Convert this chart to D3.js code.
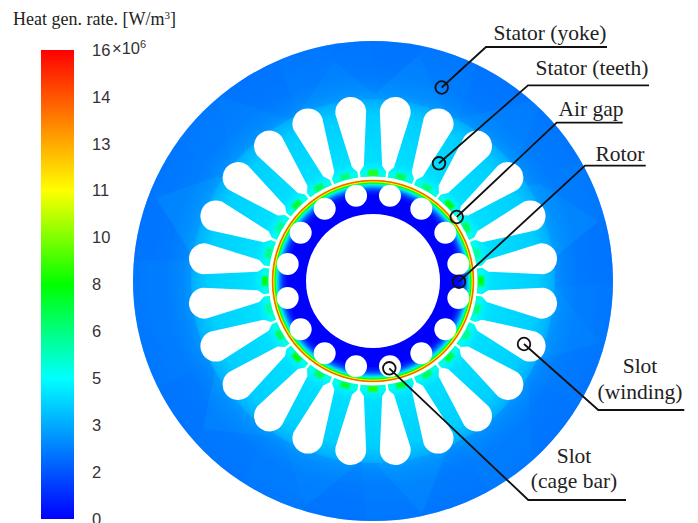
<!DOCTYPE html>
<html>
<head>
<meta charset="utf-8">
<script src="https://cdn.jsdelivr.net/npm/d3@7"></script>
<style>
  html, body { margin: 0; background: #fff; overflow: hidden; }
  svg { display: block; }
  .tick text { font-family: "Liberation Sans", Arial, sans-serif; fill: #333; }
  .note { font-family: "Liberation Serif", "Times New Roman", serif; fill: #222; }
</style>
</head>
<body>
<svg width="698" height="523"></svg>
<script>
// colour bar
const barTicks = [0, 1.6, 3.2, 4.8, 6.4, 8, 9.6, 11.2, 12.8, 14.4, 16]
const barLabels = ["0", "2", "3", "5", "6", "8", "10", "11", "13", "14", "16"]
const colorStops = [0, 4.8, 8, 11.2, 16]
const colorRange = ["#0000ff", "#00ffff", "#00ff00", "#ffff00", "#ff0000"]

// heat generation rate against radius
const statorRadii = [104.5, 108, 113, 120, 165, 178, 190, 205, 240]
const statorHeat = [5.4, 5, 4.5, 4.2, 3.9, 3.4, 2.8, 2.4, 2.2]
const rotorRadii = [67, 85, 89, 92, 95, 96.5, 98, 99.2, 100.2, 101, 101.5]
const rotorHeat = [0, 0, 0.6, 1.8, 3.8, 5.5, 8, 11, 14.5, 13.5, 10.5]

// heat on each of the tooth tips, clockwise from the top tooth
const toothTipHeat = [8.5, 7, 6.5, 8, 7, 6, 8, 6.5, 6.2, 7.5, 7, 7.5, 8.5, 7.5, 7, 8, 7, 6, 8, 6.5, 6.2, 7.5, 7, 6.5]

// coarse mesh cells in the yoke: angle in degrees, radius, heat
const cellAngle = [4, 19, 33, 52, 66, 84, 97, 113, 129, 143, 160, 176, 188, 205, 222, 236, 251, 268, 283, 299, 312, 329, 344, 356,
    12, 41, 72, 105, 137, 168, 198, 228, 258, 291, 320, 350]
const cellRadius = [226, 222, 229, 224, 228, 221, 227, 223, 229, 222, 226, 224, 229, 221, 226, 223, 228, 222, 226, 229, 222, 227, 224, 221,
    200, 204, 198, 202, 199, 203, 200, 198, 204, 200, 203, 199]
const cellHeat = [2.15, 2.3, 2.1, 2.25, 2.35, 2.15, 2.3, 2.2, 2.1, 2.35, 2.2, 2.3, 2.15, 2.35, 2.2, 2.1, 2.3, 2.35, 2.15, 2.25, 2.35, 2.1, 2.3, 2.2,
    2.55, 2.4, 2.65, 2.5, 2.35, 2.65, 2.5, 2.55, 2.35, 2.65, 2.4, 2.55]

const statorSlots = d3.range(24)
const rotorSlots = d3.range(16)

// callouts: leader line runs from the ring to the elbow, then along under the text
const callouts = [
  {lines: ["Stator (yoke)"], textX: 550, baselines: [40], ring: [441.7, 87.5], elbow: [486, 47], end: 607},
  {lines: ["Stator (teeth)"], textX: 592, baselines: [75], ring: [439, 163.3], elbow: [528, 85.3], end: 649},
  {lines: ["Air gap"], textX: 591, baselines: [116], ring: [456.7, 217], elbow: [556.7, 122.7], end: 622.7},
  {lines: ["Rotor"], textX: 620, baselines: [161], ring: [459, 281.7], elbow: [585, 165.7], end: 645.7},
  {lines: ["Slot", "(winding)"], textX: 640, baselines: [373, 399], ring: [524, 344], elbow: [598.3, 410], end: 684.3},
  {lines: ["Slot", "(cage bar)"], textX: 574, baselines: [463, 488], ring: [389.3, 368.3], elbow: [528.3, 500], end: 626}
]

const svg = d3.select("svg")
const defs = svg.append("defs")

const heatColor = d3.scaleLinear().domain(colorStops).range(colorRange)

function radialFill(id, radii, heat){
    const outer = d3.max(radii)
    defs.append("radialGradient")
        .attr("id", id)
        .attr("gradientUnits", "userSpaceOnUse")
        .attr("cx", 0).attr("cy", 0).attr("r", outer)
        .selectAll("stop")
        .data(radii)
        .enter()
        .append("stop")
        .attr("offset", d => d / outer)
        .attr("stop-color", (d, i) => heatColor(heat[i]))
}

radialFill("statorFill", statorRadii, statorHeat)
radialFill("rotorFill", rotorRadii, rotorHeat)

defs.append("filter").attr("id", "soft")
    .append("feGaussianBlur").attr("stdDeviation", 0.45)
defs.append("filter").attr("id", "tipSoft")
    .append("feGaussianBlur").attr("stdDeviation", 0.8)
defs.append("clipPath").attr("id", "statorClip")
    .append("circle").attr("r", 240)

// motor section
const motor = svg.append("g")
    .attr("transform", "translate(373, 281)")
    .attr("filter", "url(#soft)")

motor.append("circle").attr("r", 240).style("fill", "url(#statorFill)")

// yoke mesh
const cellPoints = cellAngle.map((a, i) => d3.pointRadial(a * Math.PI / 180, cellRadius[i]))
const voronoi = d3.Delaunay.from(cellPoints).voronoi([-245, -245, 245, 245])

motor.append("g")
    .attr("clip-path", "url(#statorClip)")
    .selectAll("path")
    .data(cellHeat)
    .enter()
    .append("path")
    .attr("d", (d, i) => voronoi.renderCell(i))
    .style("fill", d => heatColor(d))
    .style("opacity", 0.45)

// the inner part of the stator sits on top of the mesh
motor.append("circle").attr("r", 182).style("fill", "url(#statorFill)")

const slotAngle = d3.scaleLinear().domain([0, 24]).range([7.5, 367.5])
const toothAngle = d3.scaleLinear().domain([0, 24]).range([0, 360])

const tipArc = d3.arc().innerRadius(105).outerRadius(111)
    .startAngle(-0.045).endAngle(0.045)

motor.selectAll("path.tip")
    .data(toothTipHeat)
    .enter()
    .append("path")
    .attr("class", "tip")
    .attr("d", tipArc())
    .attr("transform", (d, i) => `rotate(${toothAngle(i)})`)
    .attr("filter", "url(#tipSoft)")
    .style("fill", d => heatColor(d))

function slotPath(){
    const p = d3.path()
    p.moveTo(-1.2, -100)
    p.lineTo(-1.2, -110)
    p.lineTo(-6, -115.5)
    p.lineTo(-15.5, -170)
    p.arc(0, -170, 15.5, Math.PI, 0)
    p.lineTo(6, -115.5)
    p.lineTo(1.2, -110)
    p.lineTo(1.2, -100)
    p.closePath()
    return p.toString()
}

motor.selectAll("path.slot")
    .data(statorSlots)
    .enter()
    .append("path")
    .attr("class", "slot")
    .attr("d", slotPath())
    .attr("transform", d => `rotate(${slotAngle(d)})`)
    .style("fill", "#fff")

// air gap, rotor and its bars
motor.append("circle").attr("r", 104.5).style("fill", "#fff")
motor.append("circle").attr("r", 101.5).style("fill", "url(#rotorFill)")
motor.append("circle").attr("r", 67).style("fill", "#fff")

const barAngle = d3.scaleLinear().domain([0, 16]).range([11.25, 371.25])

motor.selectAll("circle.bar")
    .data(rotorSlots)
    .enter()
    .append("circle")
    .attr("class", "bar")
    .attr("cx", d => d3.pointRadial(barAngle(d) * Math.PI / 180, 87)[0])
    .attr("cy", d => d3.pointRadial(barAngle(d) * Math.PI / 180, 87)[1])
    .attr("r", 11)
    .style("fill", "#fff")

// colour bar
const barScale = d3.scaleLinear().domain([0, 16]).range([519, 50])

defs.append("linearGradient")
    .attr("id", "barFill")
    .attr("x1", 0).attr("x2", 0).attr("y1", 1).attr("y2", 0)
    .selectAll("stop")
    .data(colorStops)
    .enter()
    .append("stop")
    .attr("offset", d => d / 16)
    .attr("stop-color", d => heatColor(d))

svg.append("rect")
    .attr("x", 41).attr("y", barScale(16))
    .attr("width", 33).attr("height", barScale(0) - barScale(16))
    .style("fill", "url(#barFill)")

const barAxis = d3.axisRight(barScale)
    .tickValues(barTicks)
    .tickSize(0)
    .tickPadding(0)
    .tickFormat((d, i) => barLabels[i])

svg.append("g")
    .attr("transform", "translate(92, 0)")
    .call(barAxis)
    .call(g => g.select(".domain").remove())
    .selectAll("text")
    .style("font-size", "16.5px")

svg.append("text")
    .attr("x", 112).attr("y", 54)
    .style("font-family", "Liberation Sans, Arial, sans-serif")
    .style("font-size", "16.5px")
    .style("fill", "#333")
    .text("×10")
    .append("tspan")
    .attr("dy", -6)
    .style("font-size", "11px")
    .text("6")

const title = svg.append("text")
    .attr("class", "note")
    .attr("x", 13).attr("y", 25)
    .style("font-size", "18px")
    .text("Heat gen. rate. [W/m")
title.append("tspan").attr("dy", -6).style("font-size", "11px").text("3")
title.append("tspan").attr("dy", 6).text("]")

// callouts
const notes = svg.selectAll("g.callout")
    .data(callouts)
    .enter()
    .append("g")
    .attr("class", "callout")

notes.append("polyline")
    .attr("points", d => [d.ring, d.elbow, [d.end, d.elbow[1]]].join(" "))
    .style("fill", "none")
    .style("stroke", "#111")
    .style("stroke-width", 1.8)

notes.append("circle")
    .attr("cx", d => d.ring[0])
    .attr("cy", d => d.ring[1])
    .attr("r", 6.3)
    .style("fill", "none")
    .style("stroke", "#111")
    .style("stroke-width", 1.8)

notes.selectAll("text")
    .data(d => d.lines.map((t, i) => ({t, x: d.textX, y: d.baselines[i]})))
    .enter()
    .append("text")
    .attr("class", "note")
    .attr("x", l => l.x)
    .attr("y", l => l.y)
    .style("font-size", "21.5px")
    .style("text-anchor", "middle")
    .text(l => l.t)
</script>
</body>
</html>
